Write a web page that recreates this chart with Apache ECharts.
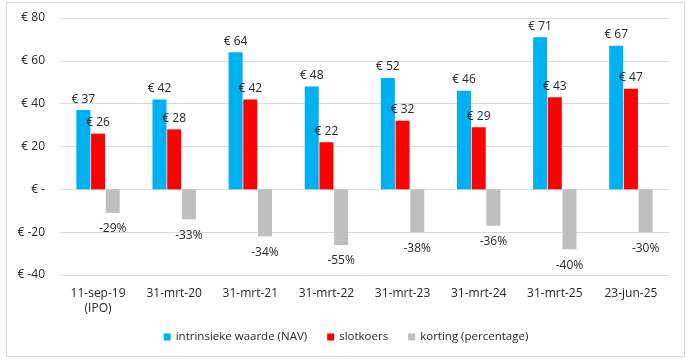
<!DOCTYPE html>
<html><head><meta charset="utf-8">
<script src="https://cdn.jsdelivr.net/npm/echarts@6/dist/echarts.min.js"></script>
<style>html,body{margin:0;padding:0;background:#fff}#c{width:692px;height:363px}</style>
</head><body><div id="c"></div>
<script>
const categories = ['11-sep-19\n(IPO)','31-mrt-20','31-mrt-21','31-mrt-22','31-mrt-23','31-mrt-24','31-mrt-25','23-jun-25'];
const navValues = [37,42,64,48,52,46,71,67];
const priceValues = [26,28,42,22,32,29,43,47];
const discountValues = [-11,-14,-22,-26,-20,-17,-28,-20];
const discountPct = ['-29%','-33%','-34%','-55%','-38%','-36%','-40%','-30%'];
const yTicks = {min:-40,max:80,interval:20};

const font = 'Open Sans, Noto Sans, sans-serif';
const txt = '#262626';
const chart = echarts.init(document.getElementById('c'));
chart.setOption({
  animation:false,
  textStyle:{fontFamily:font},
  graphic:[{type:'rect',shape:{x:6.5,y:2.5,width:678,height:354},style:{fill:'none',stroke:'#D9D9D9',lineWidth:1},silent:true}],
  grid:{left:60,right:23,top:18,bottom:88},
  legend:{bottom:15,left:'center',itemWidth:7,itemHeight:7,itemGap:20,icon:'rect',
    textStyle:{color:txt,fontSize:11.5,fontFamily:font},
    data:['intrinsieke waarde (NAV)','slotkoers','korting (percentage)']},
  xAxis:{type:'category',data:categories,position:'bottom',
    axisLine:{show:false},axisTick:{show:false},
    axisLabel:{color:txt,fontSize:12,margin:11,lineHeight:15,fontFamily:font}},
  yAxis:{type:'value',min:yTicks.min,max:yTicks.max,interval:yTicks.interval,
    axisLine:{show:false},axisTick:{show:false},
    splitLine:{lineStyle:{color:'#D9D9D9',width:1}},
    axisLabel:{color:txt,fontSize:12,margin:15,fontFamily:font,formatter:v=>v===0?'€ -':'€ '+v}},
  series:[
    {name:'intrinsieke waarde (NAV)',type:'bar',data:navValues,barWidth:14,barGap:'5%',
     itemStyle:{color:'#00B0F0'},
     label:{show:true,position:'top',distance:5,color:txt,fontSize:12,fontFamily:font,formatter:p=>'€ '+p.value}},
    {name:'slotkoers',type:'bar',data:priceValues,barWidth:14,barGap:'5%',
     itemStyle:{color:'#FF0000'},
     label:{show:true,position:'top',distance:5,color:txt,fontSize:12,fontFamily:font,formatter:p=>'€ '+p.value}},
    {name:'korting (percentage)',type:'bar',data:discountValues,barWidth:14,barGap:'5%',
     itemStyle:{color:'#BFBFBF'},
     label:{show:true,position:'bottom',distance:10,color:txt,fontSize:12,fontFamily:font,formatter:p=>discountPct[p.dataIndex]}}
  ]
});
</script></body></html>
